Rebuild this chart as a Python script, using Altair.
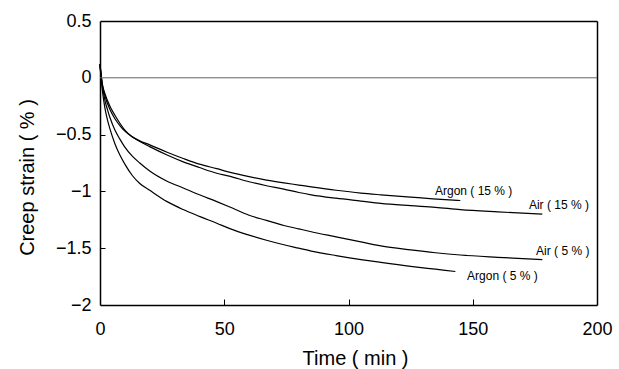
import altair as alt
import pandas as pd

# Time (min) and creep strain (%) for each series
t_argon5 = [0, 0.5, 1, 2, 3, 4, 6, 8, 10, 13, 16, 20, 27, 33.5, 40, 47, 52, 60, 67, 74, 80, 85, 95, 105, 113, 125, 135, 143]
v_argon5 = [0.12, -0.02, -0.12, -0.27, -0.37, -0.45, -0.58, -0.68, -0.76, -0.86, -0.93, -0.99, -1.09, -1.16, -1.22, -1.28, -1.325, -1.385, -1.43, -1.47, -1.50, -1.525, -1.565, -1.60, -1.625, -1.66, -1.685, -1.705]

t_air5 = [0, 0.5, 1, 2, 3, 4, 6, 8, 10, 13, 16, 20, 27, 33.5, 40, 47, 52, 60, 67, 74, 80, 85, 95, 105, 113, 125, 135, 145, 160, 178]
v_air5 = [0.12, 0.0, -0.08, -0.2, -0.28, -0.35, -0.46, -0.54, -0.61, -0.69, -0.75, -0.82, -0.91, -0.97, -1.03, -1.09, -1.135, -1.21, -1.255, -1.30, -1.33, -1.355, -1.40, -1.445, -1.48, -1.515, -1.54, -1.56, -1.58, -1.60]

t_air15 = [0, 0.5, 1, 2, 4, 6, 8, 10, 13, 16, 20, 27, 33.5, 40, 47, 52, 60, 67, 74, 80, 85, 95, 105, 113, 125, 135, 145, 160, 178]
v_air15 = [0.12, 0.02, -0.06, -0.14, -0.25, -0.33, -0.40, -0.46, -0.52, -0.56, -0.606, -0.68, -0.74, -0.79, -0.84, -0.865, -0.915, -0.95, -0.98, -1.01, -1.03, -1.06, -1.085, -1.105, -1.125, -1.14, -1.16, -1.18, -1.20]

t_argon15 = [0, 0.5, 1, 2, 4, 6, 8, 10, 13, 16, 20, 27, 33.5, 40, 47, 52, 60, 67, 74, 80, 85, 95, 105, 113, 125, 134, 145]
v_argon15 = [0.12, 0.01, -0.07, -0.16, -0.28, -0.36, -0.42, -0.47, -0.52, -0.555, -0.59, -0.655, -0.71, -0.76, -0.80, -0.83, -0.87, -0.90, -0.925, -0.944, -0.96, -0.99, -1.015, -1.03, -1.05, -1.065, -1.08]

labels = ["Argon ( 15 % )", "Air ( 15 % )", "Air ( 5 % )", "Argon ( 5 % )"]
label_t = [134.8, 172.6, 175.5, 147.7]
label_v = [-0.997, -1.12, -1.525, -1.745]

x_ticks = [0, 50, 100, 150, 200]
y_ticks = [-2, -1.5, -1, -0.5, 0, 0.5]
x_inner_ticks = [50, 100, 150]
y_inner_ticks = [-1.5, -1, -0.5]
x_range = [0.0, 200.0]
y_range = [-2.0, 0.5]

rows = []
for name, ts, vs in [("Argon5", t_argon5, v_argon5), ("Air5", t_air5, v_air5),
                     ("Air15", t_air15, v_air15), ("Argon15", t_argon15, v_argon15)]:
    for t, v in zip(ts, vs):
        rows.append({"series": name, "t": float(t), "v": float(v)})
df = pd.DataFrame(rows)
lab_df = pd.DataFrame({"label": labels, "t": label_t, "v": label_v})

FONT = "Liberation Sans"
xscale = alt.Scale(domain=x_range, nice=False, zero=False)
yscale = alt.Scale(domain=y_range, nice=False, zero=False)

# main axes (bottom/left) with labels, titles and the frame's bottom/left edges
xaxis = alt.Axis(orient="bottom", values=x_ticks, title="Time ( min )", grid=False,
                 domain=True, domainColor="black", domainWidth=1.5, ticks=False,
                 labelFlush=False, format="d",
                 labelFont=FONT, labelFontSize=18, labelColor="black", labelPadding=15,
                 titleFont=FONT, titleFontSize=20, titleFontWeight="normal", titleColor="black",
                 titleX=255, titleY=59, titleBaseline="alphabetic", titleAnchor="middle")
yaxis = alt.Axis(orient="left", values=y_ticks, title="Creep strain ( % )", grid=False,
                 domain=True, domainColor="black", domainWidth=1.5, ticks=False,
                 labelFlush=False, format="~g",
                 labelFont=FONT, labelFontSize=18, labelColor="black", labelPadding=9,
                 titleFont=FONT, titleFontSize=20, titleFontWeight="normal", titleColor="black",
                 titleX=-67, titleY=156, titleBaseline="alphabetic", titleAnchor="middle", titleAngle=270)

# top/right axes: only the frame's top/right edges
xaxis_top = alt.Axis(orient="top", title="", grid=False, labels=False, ticks=False,
                     domain=True, domainColor="black", domainWidth=1.5)
yaxis_right = alt.Axis(orient="right", title="", grid=False, labels=False, ticks=False,
                       domain=True, domainColor="black", domainWidth=1.5)

# inward ticks: axes shifted inside the plot with outward ticks
xaxis_in = alt.Axis(orient="bottom", offset=-6, values=x_inner_ticks, title="", grid=False,
                    labels=False, domain=False, ticks=True, tickSize=6, tickColor="black", tickWidth=1)
yaxis_in = alt.Axis(orient="left", offset=-5, values=y_inner_ticks, title="", grid=False,
                    labels=False, domain=False, ticks=True, tickSize=5, tickColor="black", tickWidth=1)

lines = alt.Chart(df).mark_line(color="black", strokeWidth=1.2, interpolate="monotone").encode(
    x=alt.X("t:Q", scale=xscale, axis=xaxis),
    y=alt.Y("v:Q", scale=yscale, axis=yaxis),
    detail="series:N",
    order="t:Q",
)

zero = alt.Chart(pd.DataFrame({"zy": [0.0], "za": [x_range[0]], "zb": [x_range[1]]})).mark_rule(color="#666", strokeWidth=1).encode(
    x=alt.X("za:Q", scale=xscale, axis=xaxis_top), x2="zb:Q", y=alt.Y("zy:Q", scale=yscale, axis=yaxis_right))

text = alt.Chart(lab_df).mark_text(align="left", baseline="middle", font=FONT, fontSize=12, color="black").encode(
    x=alt.X("t:Q", scale=xscale, axis=xaxis_in), y=alt.Y("v:Q", scale=yscale, axis=yaxis_in), text="label:N")

chart = alt.layer(lines, zero, text).resolve_scale(
    x="independent", y="independent"
).resolve_axis(
    x="independent", y="independent"
).properties(
    width=497, height=284,
    background="white",
    autosize=alt.AutoSizeParams(type="none"),
    padding={"left": 100, "top": 21, "right": 22, "bottom": 64},
).configure_view(strokeWidth=0)

chart.save("out.html", embed_options={"renderer": "svg", "actions": False})
